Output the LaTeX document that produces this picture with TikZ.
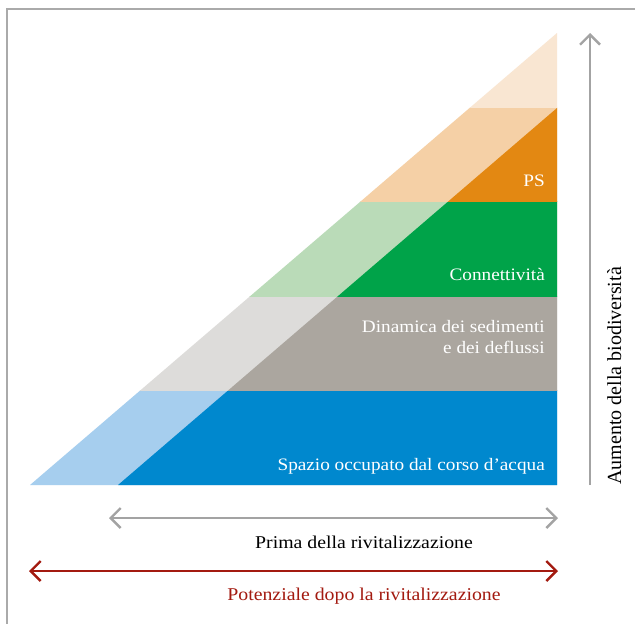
\documentclass[tikz,border=0pt]{standalone}
\usepackage{fontspec}
\setmainfont{Liberation Serif}
\newfontfamily\labelfont{Liberation Serif}[FakeStretch=1.1]
\usetikzlibrary{arrows.meta}
\definecolor{blueD}{HTML}{0088CE}
\definecolor{blueL}{HTML}{A6CEEE}
\definecolor{greyD}{HTML}{ABA69F}
\definecolor{greyL}{HTML}{DDDCDA}
\definecolor{greenD}{HTML}{00A349}
\definecolor{greenL}{HTML}{BADBB8}
\definecolor{orangeD}{HTML}{E38812}
\definecolor{orangeL}{HTML}{F5D0A6}
\definecolor{peach}{HTML}{F9E6D2}
\definecolor{frame}{HTML}{AAAAAA}
\definecolor{axis}{HTML}{A3A3A3}
\definecolor{potred}{HTML}{A31A10}
\tikzset{
  barb/.tip={Straight Barb[length=10pt,width=20pt,line width=2.4pt]},
  band label/.style={anchor=base east, inner sep=0pt, text=white, font=\labelfont\fontsize{17.5}{21}\selectfont, align=right},
  caption/.style={anchor=base, font=\labelfont\fontsize{18}{21}\selectfont},
  both ends/.style={arrows={barb-barb}},
}
\begin{document}
\begin{tikzpicture}[x=1pt,y=-1pt]
\useasboundingbox (0,0) rectangle (635,624);
\fill[white] (0,0) rectangle (635,624);
% frame lines
\draw[frame, line width=1.2pt] (7,624) -- (7,9) -- (635,9);

% bands: light outer triangle and darker inner triangle clipped per band
\newcommand{\drawband}[4]{%
  \begin{scope}
    \clip (0,#1) rectangle (557,#2);
    \fill[#3] (30,485) -- (557,33) -- (557,485) -- cycle;
    \fill[#4] (118,485) -- (557,108) -- (557,485) -- cycle;
  \end{scope}}
\drawband{390}{485}{blueL}{blueD}
\drawband{296}{390}{greyL}{greyD}
\drawband{201}{296}{greenL}{greenD}
\drawband{107}{201}{orangeL}{orangeD}
\drawband{30}{107}{peach}{peach}

% labels
\node[band label] (ps) at (545,186) {PS};
\node[band label] (con) at (545,280) {Connettività};
\node[band label] (din) at (545,353) {Dinamica dei sedimenti\\e dei deflussi};
\node[band label] (spa) at (545,470) {Spazio occupato dal corso d’acqua};

% vertical axis
\coordinate (vb) at (590,485);
\coordinate (vt) at (590,33);
\draw[axis, line width=2.4pt, -barb] (vb) -- (vt);
\node[rotate=90, anchor=base west, inner sep=0pt, font=\fontsize{20}{24}\selectfont] (bio) at (621,485) {Aumento della biodiversità};

% horizontal arrows
\coordinate (pa) at (109,518);
\coordinate (pb) at (558,518);
\draw[axis, line width=2.4pt, both ends] (pa) -- (pb);
\node[caption] (prima) at (364,548) {Prima della rivitalizzazione};
\coordinate (qa) at (29,571);
\coordinate (qb) at (558,571);
\draw[potred, line width=2.4pt, both ends] (qa) -- (qb);
\node[caption, text=potred] (pot) at (364,600) {Potenziale dopo la rivitalizzazione};
\end{tikzpicture}
\end{document}
